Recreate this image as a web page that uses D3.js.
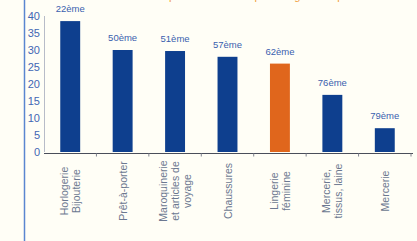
<!DOCTYPE html>
<html>
<head>
<meta charset="utf-8">
<script src="https://cdn.jsdelivr.net/npm/d3@7/dist/d3.min.js"></script>
<style>
  html, body { margin: 0; padding: 0; background: #fffef6; }
  svg { display: block; }
</style>
</head>
<body>
<svg id="chart" width="417" height="241"></svg>
<script>
// données
var categories = [
  ["Horlogerie", "Bijouterie"],
  ["Prêt-à-porter"],
  ["Maroquinerie", "et articles de", "voyage"],
  ["Chaussures"],
  ["Lingerie", "féminine"],
  ["Mercerie,", "tissus, laine"],
  ["Mercerie"]
];
var values = [38.5, 30, 29.7, 28, 26, 16.8, 7];
var ranks = ["22ème", "50ème", "51ème", "57ème", "62ème", "76ème", "79ème"];
var yTicks = [0, 5, 10, 15, 20, 25, 30, 35, 40];

var svg = d3.select("#chart");
var W = 417, H = 241;

svg.append("rect").attr("width", W).attr("height", H).attr("fill", "#fffef6");

// cadre bleu à gauche
svg.append("line")
  .attr("x1", 24.5).attr("x2", 24.5).attr("y1", 0).attr("y2", H)
  .attr("stroke", "#5a86d0").attr("stroke-width", 1.5);

// titre coupé en haut (seul le bas des lettres est visible)
svg.append("text")
  .attr("x", 265).attr("y", -0.5).attr("text-anchor", "middle")
  .attr("font-family", "Liberation Sans, Arial, sans-serif")
  .attr("font-size", 11).attr("fill", "#f0a040")
  .text("Le poids des ventes par catégorie de produits");

var x = d3.scaleBand()
  .domain(d3.range(categories.length))
  .range([44, 411])
  .paddingInner(0.62).paddingOuter(0.31);

var y = d3.scaleLinear().domain([0, 40]).range([152, 16]);

// axe y
svg.append("line")
  .attr("x1", 44.5).attr("x2", 44.5).attr("y1", y(40)).attr("y2", y(0))
  .attr("stroke", "#b8bcc8").attr("stroke-width", 1);

svg.selectAll(".ytick")
  .data(yTicks)
  .enter().append("text")
  .attr("class", "ytick")
  .attr("x", 40).attr("y", function(d){ return y(d) + 3.5; })
  .attr("text-anchor", "end")
  .attr("font-family", "Liberation Sans Narrow, Arial Narrow, sans-serif")
  .attr("font-size", 11)
  .attr("fill", "#3f66b4")
  .text(function(d){ return d; });

// barres
svg.selectAll(".bar")
  .data(values)
  .enter().append("rect")
  .attr("class", "bar")
  .attr("x", function(d, i){ return x(i); })
  .attr("y", function(d){ return y(d); })
  .attr("width", x.bandwidth())
  .attr("height", function(d){ return y(0) - y(d); })
  .attr("fill", function(d, i){ return i === 4 ? "#e0661c" : "#0e3f8e"; });

// rangs
svg.selectAll(".rank")
  .data(ranks)
  .enter().append("text")
  .attr("class", "rank")
  .attr("x", function(d, i){ return x(i) + x.bandwidth() / 2; })
  .attr("y", function(d, i){ return y(values[i]) - 9; })
  .attr("text-anchor", "middle")
  .attr("font-family", "Liberation Sans Narrow, Arial Narrow, sans-serif")
  .attr("font-size", 9.5)
  .attr("fill", "#3a5fae")
  .text(function(d){ return d; });

// axe x
var step = x.step();
svg.append("line")
  .attr("x1", 44).attr("x2", 413).attr("y1", 153.5).attr("y2", 153.5)
  .attr("stroke", "#4a4e5a").attr("stroke-width", 1.2);

svg.selectAll(".xtick")
  .data(d3.range(categories.length))
  .enter().append("line")
  .attr("class", "xtick")
  .attr("x1", function(i){ return x(i) + x.bandwidth() / 2 + step / 2; })
  .attr("x2", function(i){ return x(i) + x.bandwidth() / 2 + step / 2; })
  .attr("y1", 153.5).attr("y2", 156.5)
  .attr("stroke", "#80848f");

// libellés verticaux
var labels = svg.selectAll(".cat")
  .data(categories)
  .enter().append("text")
  .attr("class", "cat")
  .attr("transform", function(d, i){
    var cx = x(i) + x.bandwidth() / 2;
    return "translate(" + cx + ",191) rotate(-90)";
  })
  .attr("text-anchor", "middle")
  .attr("font-family", "Liberation Sans, Arial, sans-serif")
  .attr("font-size", 10.5)
  .attr("fill", "#6c7890");

labels.each(function(d){
  var t = d3.select(this);
  var n = d.length, lh = 12;
  d.forEach(function(line, k){
    t.append("tspan")
      .attr("x", 0)
      .attr("y", (k - (n - 1) / 2) * lh + 4)
      .text(line);
  });
});
</script>
</body>
</html>
